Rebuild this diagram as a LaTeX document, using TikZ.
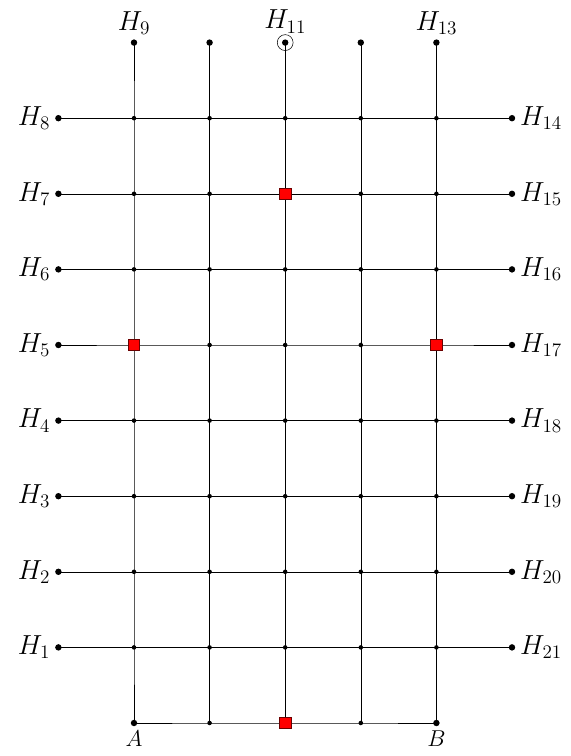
\documentclass[tikz,border=0pt]{standalone}
\usepackage{amsmath}
\usepackage{xcolor}
\definecolor{Mark}{HTML}{FF0000}
\definecolor{Rim}{HTML}{6A0000}
\pgfdeclarelayer{lines}
\pgfsetlayers{lines,main}

\begin{document}
\begin{tikzpicture}[enddot/.style={circle,fill=black,inner sep=0pt,minimum size=0.17cm}, crossdot/.style={circle,fill=black,inner sep=0pt,minimum size=0.12cm}, redbox/.style={rectangle,fill=Mark,draw=Rim,line width=0.5pt,inner sep=0pt,minimum size=0.3cm}, sidelab/.style={font=\fontsize{22}{26}\selectfont}, toplab/.style={font=\fontsize{20.5}{24}\selectfont}, footlab/.style={font=\fontsize{18}{22}\selectfont}]
\useasboundingbox (-3.545,-0.873) rectangle (11.56,19.127);
% bottom row and top ends
\node[enddot,label={[footlab]below:$A$}] (B0) at (0,0) {};\node[crossdot] (B1) at (2,0) {};\node[redbox] (B2) at (4,0) {};\node[crossdot] (B3) at (6,0) {};\node[enddot,label={[footlab]below:$B$}] (B4) at (8,0) {};
\node[enddot,label={[toplab]above:$H_9$}] (T0) at (0,18) {};\node[enddot] (T1) at (2,18) {};\node[enddot,label={[toplab,yshift=1pt]above:$H_{11}$}] (T2) at (4,18) {};\node[enddot] (T3) at (6,18) {};\node[enddot,label={[toplab]above:$H_{13}$}] (T4) at (8,18) {};
\draw (T2) circle (0.21);
% rows H_1..H_8 and H_21..H_14
\foreach \r in {1,...,8}{
  \pgfmathtruncatemacro{\rr}{22-\r}
  \node[enddot,label={[sidelab]left:$H_{\r}$}] (L\r) at (-2,2*\r) {};
  \node[enddot,label={[sidelab]right:$H_{\rr}$}] (R\r) at (10,2*\r) {};
  \foreach \c in {0,...,4}{\node[crossdot] (P\c-\r) at (2*\c,2*\r) {};}
}
\node[redbox] at (P0-5) {};\node[redbox] at (P4-5) {};\node[redbox] at (P2-7) {};
\begin{pgfonlayer}{lines}
\foreach \r in {1,...,8}{\draw (L\r.center) -- (P0-\r.center) -- (P1-\r.center) -- (P2-\r.center) -- (P3-\r.center) -- (P4-\r.center) -- (R\r.center);}
\foreach \c in {0,...,4}{\draw (B\c.center) -- (P\c-1.center) -- (P\c-4.center) -- (P\c-8.center) -- (T\c.center);}
\draw (B0.center) -- (B1.center) -- (B2.center) -- (B3.center) -- (B4.center);
\end{pgfonlayer}
\end{tikzpicture}
\end{document}
